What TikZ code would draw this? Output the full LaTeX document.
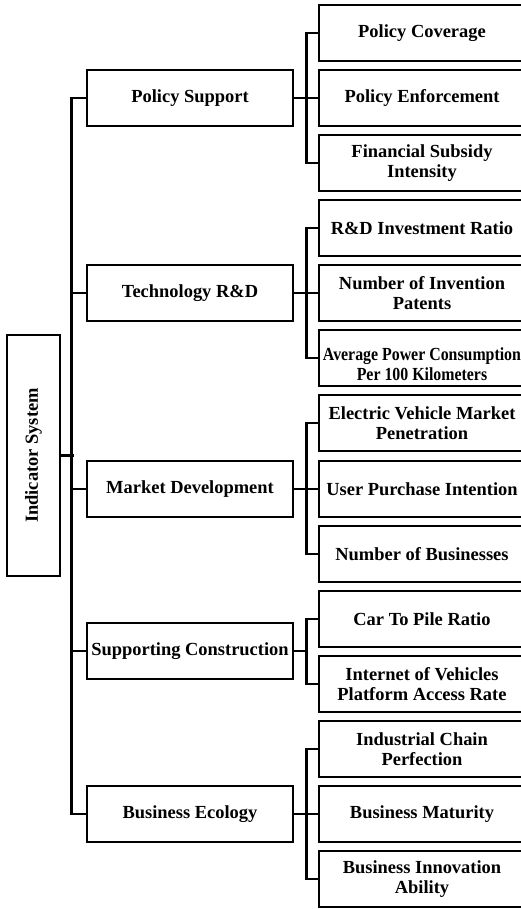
\documentclass[tikz,border=0pt]{standalone}
\usepackage{fontspec}
\usepackage{graphicx}
\setmainfont{Liberation Serif}

\begin{document}
\begin{tikzpicture}[
        line width=1.6pt,
        font=\fontsize{10.5}{11.1}\selectfont\bfseries,
        box/.style={
            rectangle,
            draw,
            minimum width=4.12cm,
            minimum height=1.12cm,
            inner sep=0pt,
            align=center
        },
        rootbox/.style={
            box,
            rotate=90,
            minimum width=4.82cm,
            minimum height=1.06cm
        }
    ]

    \useasboundingbox (0, 0) rectangle (10.42, -18.18);

    % root
    \node[rootbox] (root) at (0.67, -9.11) {Indicator System};

    % first level
    \node[box] (ps) at (3.80, -1.96) {Policy Support};
    \node[box] (tr) at (3.80, -5.86) {Technology R\&D};
    \node[box] (md) at (3.80, -9.78) {Market Development};
    \node[box] (sc) at (3.80, -13.02) {Supporting Construction};
    \node[box] (be) at (3.80, -16.28) {Business Ecology};

    % second level
    \node[box] (pc) at (8.44, -0.66) {Policy Coverage};
    \node[box] (pe) at (8.44, -1.96) {Policy Enforcement};
    \node[box] (fs) at (8.44, -3.26) {Financial Subsidy\\Intensity};

    \node[box] (ri) at (8.44, -4.56) {R\&D Investment Ratio};
    \node[box] (ip) at (8.44, -5.86) {Number of Invention\\Patents};
    % squeezed text, sitting low in its box
    \node[box] (pw) at (8.44, -7.16)
        {\raisebox{-0.44cm}[0pt][0pt]{\begin{tabular}[b]{@{}c@{}}
            \scalebox{0.86}[1]{Average Power Consumption}\\
            \scalebox{0.86}[1]{Per 100 Kilometers}
         \end{tabular}}};

    \node[box] (ev) at (8.44, -8.46) {Electric Vehicle Market\\Penetration};
    \node[box] (up) at (8.44, -9.78) {User Purchase Intention};
    \node[box] (nb) at (8.44, -11.08) {Number of Businesses};

    \node[box] (cp) at (8.44, -12.38) {Car To Pile Ratio};
    \node[box] (iv) at (8.44, -13.68) {Internet of Vehicles\\Platform Access Rate};

    \node[box] (ic) at (8.44, -14.98) {Industrial Chain\\Perfection};
    \node[box] (bm) at (8.44, -16.28) {Business Maturity};
    \node[box] (bi) at (8.44, -17.58) {Business Innovation\\Ability};

    % trunk
    \draw (root.south) -- ++(0.26, 0);
    \draw (ps.west) -- ++(-0.28, 0) |- (be.west);
    \draw (tr.west) -- ++(-0.28, 0);
    \draw (md.west) -- ++(-0.28, 0);
    \draw (sc.west) -- ++(-0.28, 0);

    % brackets
    \draw (ps.east) -- ++(0.24, 0) |- (pc.west);
    \draw (ps.east) -- ++(0.24, 0) |- (fs.west);
    \draw (ps.east) -- (pe.west);

    \draw (tr.east) -- ++(0.24, 0) |- (ri.west);
    \draw (tr.east) -- ++(0.24, 0) |- (pw.west);
    \draw (tr.east) -- (ip.west);

    \draw (md.east) -- ++(0.24, 0) |- (ev.west);
    \draw (md.east) -- ++(0.24, 0) |- (nb.west);
    \draw (md.east) -- (up.west);

    \draw (sc.east) -- ++(0.24, 0) |- (cp.west);
    \draw (sc.east) -- ++(0.24, 0) |- (iv.west);

    \draw (be.east) -- ++(0.24, 0) |- (ic.west);
    \draw (be.east) -- ++(0.24, 0) |- (bi.west);
    \draw (be.east) -- (bm.west);

\end{tikzpicture}
\end{document}
